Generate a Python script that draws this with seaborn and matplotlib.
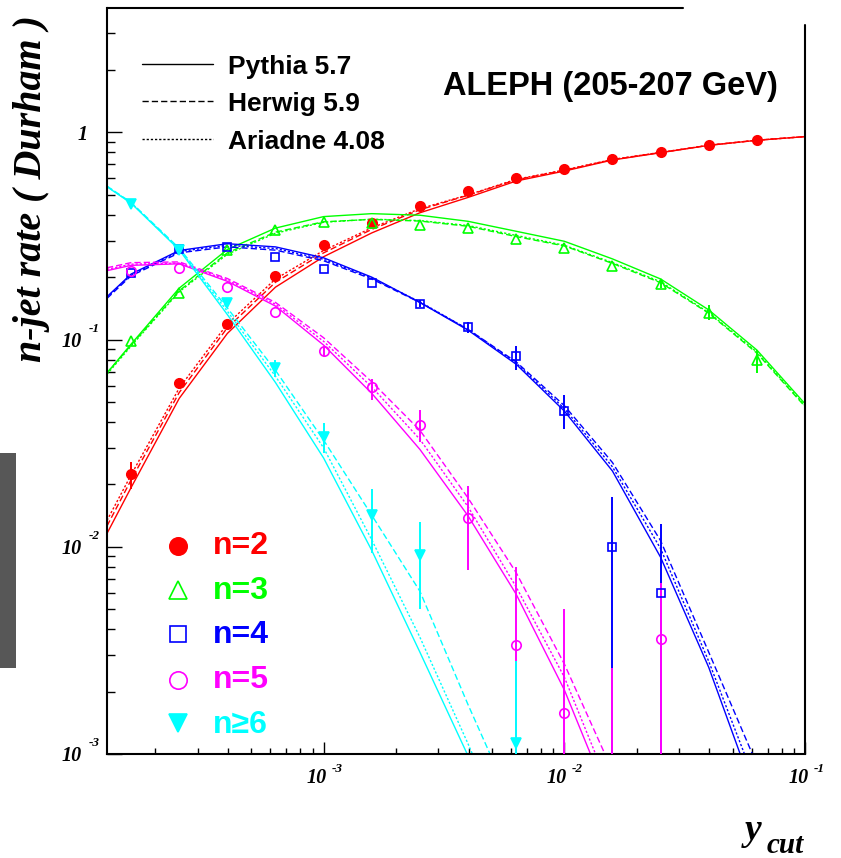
import numpy as np
import pandas as pd
import matplotlib
matplotlib.use("Agg")
import matplotlib.pyplot as plt
import seaborn as sns
from matplotlib.lines import Line2D
from matplotlib.patches import Rectangle
from matplotlib.ticker import LogLocator, NullFormatter, FixedLocator

nan = np.nan

# ---------------- data ----------------
# measured points (ycut values)
ycut_pts = [1.585e-4, 2.512e-4, 3.981e-4, 6.310e-4, 1.0e-3, 1.585e-3, 2.512e-3,
            3.981e-3, 6.310e-3, 1.0e-2, 1.585e-2, 2.512e-2, 3.981e-2, 6.310e-2]

n2_val = [0.0224, 0.0615, 0.119, 0.203, 0.287, 0.367, 0.443, 0.519, 0.599, 0.663, 0.747, 0.80, 0.868, 0.922]
n2_lo = [0.0191, 0.058] + [nan] * 12
n2_hi = [0.0257, 0.065] + [nan] * 12

n3_val = [0.0986, 0.168, 0.269, 0.339, 0.371, 0.367, 0.359, 0.347, 0.307, 0.278, 0.227, 0.186, 0.134, 0.080]
n3_lo = [nan] * 11 + [0.178, 0.124, 0.0688]
n3_hi = [nan] * 11 + [0.195, 0.147, 0.089]

n4_val = [0.210, 0.272, 0.280, 0.249, 0.220, 0.188, 0.149, 0.1146, 0.083, 0.0452, 0.010, 0.006]
n4_lo = [nan] * 6 + [0.143, 0.107, 0.0713, 0.037, 1e-4, 1e-4]
n4_hi = [nan] * 6 + [0.155, 0.122, 0.0935, 0.054, 0.0174, 0.0129]

n5_val = [0.215, 0.222, 0.180, 0.136, 0.088, 0.059, 0.0387, 0.0137, 0.00335, 0.00158, nan, 0.0036]
n5_lo = [nan] * 4 + [0.083, 0.051, 0.0321, 0.0077, 1e-4, 1e-4, 1e-4, 1e-4]
n5_hi = [nan] * 4 + [0.093, 0.0645, 0.0457, 0.0196, 0.008, 0.005, 0.0026, 0.0067]

n6_val = [0.452, 0.271, 0.150, 0.073, 0.034, 0.0142, 0.0091, nan, 0.00113]
n6_lo = [nan, nan, nan, 0.066, 0.0283, 0.0093, 0.005, nan, 1e-4]
n6_hi = [nan, nan, nan, 0.080, 0.0395, 0.0189, 0.0131, nan, 0.0028]

# Monte Carlo predictions
ycut_mc = [1.259e-4, 1.585e-4, 2.512e-4, 3.981e-4, 6.310e-4, 1.0e-3, 1.585e-3, 2.512e-3,
           3.981e-3, 6.310e-3, 1.0e-2, 1.585e-2, 2.512e-2, 3.981e-2, 6.310e-2, 1.0e-1]
ycut_mc6 = [1.259e-4, 1.585e-4, 2.512e-4, 3.981e-4, 6.310e-4, 1.0e-3, 1.585e-3, 2.512e-3,
            3.981e-3, 5.012e-3]

mc2_pythia = [0.0116, 0.0193, 0.052, 0.107, 0.179, 0.251, 0.327, 0.409, 0.485, 0.582, 0.65, 0.735, 0.797, 0.865, 0.915, 0.953]
mc2_herwig = [0.0126, 0.021, 0.0555, 0.114, 0.189, 0.262, 0.340, 0.423, 0.497, 0.590, 0.656, 0.738, 0.799, 0.866, 0.916, 0.954]
mc2_ariadne = [0.0134, 0.0222, 0.0583, 0.119, 0.196, 0.269, 0.346, 0.428, 0.499, 0.593, 0.658, 0.74, 0.80, 0.866, 0.916, 0.953]

mc3_pythia = [0.069, 0.095, 0.177, 0.272, 0.345, 0.392, 0.405, 0.398, 0.372, 0.333, 0.298, 0.245, 0.196, 0.139, 0.089, 0.049]
mc3_herwig = [0.069, 0.094, 0.172, 0.262, 0.330, 0.370, 0.380, 0.373, 0.352, 0.314, 0.283, 0.233, 0.188, 0.134, 0.086, 0.0475]
mc3_ariadne = [0.068, 0.093, 0.170, 0.258, 0.326, 0.368, 0.381, 0.375, 0.355, 0.318, 0.285, 0.235, 0.190, 0.135, 0.087, 0.048]

mc4_pythia = [0.161, 0.207, 0.269, 0.290, 0.280, 0.248, 0.200, 0.151, 0.111, 0.076, 0.0452, 0.0232, 0.0089, 0.00262, 0.0006]
mc4_herwig = [0.158, 0.203, 0.262, 0.280, 0.270, 0.240, 0.196, 0.151, 0.112, 0.078, 0.048, 0.0255, 0.0107, 0.0031, 0.00089]
mc4_ariadne = [0.160, 0.205, 0.266, 0.285, 0.275, 0.244, 0.198, 0.152, 0.112, 0.077, 0.0465, 0.0243, 0.0098, 0.0028, 0.0007]

mc5_pythia = [0.215, 0.228, 0.232, 0.191, 0.145, 0.094, 0.055, 0.0295, 0.0141, 0.0059, 0.00204, 0.00055]
mc5_herwig = [0.222, 0.235, 0.237, 0.197, 0.151, 0.102, 0.0625, 0.0365, 0.0172, 0.0075, 0.00272, 0.00083]
mc5_ariadne = [0.218, 0.231, 0.234, 0.194, 0.148, 0.098, 0.059, 0.0330, 0.0156, 0.0064, 0.00235, 0.00063]

mc6_pythia = [0.546, 0.455, 0.271, 0.132, 0.062, 0.0268, 0.0096, 0.0031, 0.00098, 0.00055]
mc6_herwig = [0.550, 0.459, 0.276, 0.142, 0.071, 0.0327, 0.0142, 0.0061, 0.00173, 0.00095]
mc6_ariadne = [0.548, 0.457, 0.273, 0.137, 0.0665, 0.030, 0.0108, 0.00366, 0.00112, 0.0006]

models = ["Pythia 5.7", "Herwig 5.9", "Ariadne 4.08"]
labels = ["n=2", "n=3", "n=4", "n=5", "n\u22656"]
colors = ["#ff0000", "#00ff00", "#0000ff", "#ff00ff", "#00ffff"]

# ---------------- build long-form table for seaborn ----------------
mc_sets = {
    "n=2": (ycut_mc, [mc2_pythia, mc2_herwig, mc2_ariadne]),
    "n=3": (ycut_mc, [mc3_pythia, mc3_herwig, mc3_ariadne]),
    "n=4": (ycut_mc[:15], [mc4_pythia, mc4_herwig, mc4_ariadne]),
    "n=5": (ycut_mc[:12], [mc5_pythia, mc5_herwig, mc5_ariadne]),
    "n\u22656": (ycut_mc6, [mc6_pythia, mc6_herwig, mc6_ariadne]),
}
rows = []
for lab, (xs, curves) in mc_sets.items():
    for model, ys in zip(models, curves):
        for x, y in zip(xs, ys):
            rows.append((lab, model, x, y))
df_mc = pd.DataFrame(rows, columns=["n", "model", "ycut", "rate"])

# ---------------- figure ----------------
sns.set_theme(style="white")
plt.rcParams["font.family"] = ["Liberation Sans", "DejaVu Sans"]

W, H = 841, 858
fig = plt.figure(figsize=(W / 100, H / 100), dpi=100)


def fx(px):
    return px / W


def fy(py):
    return 1 - py / H


ax = fig.add_axes([fx(107), fy(754), fx(805) - fx(107), fy(8) - fy(754)])
ax.set_xscale("log")
ax.set_yscale("log")
ax.set_xlim(10 ** -3.9, 0.1)
ax.set_ylim(1e-3, 3.98)

sns.lineplot(data=df_mc, x="ycut", y="rate", hue="n", style="model",
             hue_order=labels, style_order=models,
             palette=dict(zip(labels, colors)),
             dashes={"Pythia 5.7": "", "Herwig 5.9": (4.5, 2.2), "Ariadne 4.08": (1.6, 1.4)},
             estimator=None, sort=True, lw=1.0, legend=False, ax=ax, zorder=2)

series = [
    (ycut_pts, n2_val, n2_lo, n2_hi, "o", True),
    (ycut_pts, n3_val, n3_lo, n3_hi, "^", False),
    (ycut_pts[:12], n4_val, n4_lo, n4_hi, "s", False),
    (ycut_pts[:12], n5_val, n5_lo, n5_hi, "o", False),
    (ycut_pts[:9], n6_val, n6_lo, n6_hi, "v", True),
]
for (xs, v, lo, hi, mk, filled), c in zip(series, colors):
    xs = np.array(xs)
    lo = np.array(lo)
    hi = np.array(hi)
    ok = ~np.isnan(lo)
    ax.vlines(xs[ok], lo[ok], hi[ok], color=c, lw=1.4, zorder=3)
    ax.plot(xs, v, ls="none", marker=mk, ms=6.8 if mk != "s" else 6.3,
            mfc=c if filled else "none", mec=c, mew=1.2, zorder=4)

# ---------------- axes frame ----------------
for s in ["top", "right"]:
    ax.spines[s].set_visible(False)
for s in ["left", "bottom"]:
    ax.spines[s].set_color("black")
    ax.spines[s].set_linewidth(1.5)
ax.plot([0, (683 - 107) / 698], [1, 1], transform=ax.transAxes, color="black",
        lw=1.5, clip_on=False, zorder=5)
ax.plot([1, 1], [0, (754 - 25) / 746], transform=ax.transAxes, color="black",
        lw=1.5, clip_on=False, zorder=5)

ax.yaxis.set_major_locator(FixedLocator([1e-3, 1e-2, 1e-1, 1]))
ax.yaxis.set_minor_locator(LogLocator(base=10, subs=np.arange(2, 10), numticks=20))
ax.xaxis.set_major_locator(FixedLocator([1e-3, 1e-2, 1e-1]))
ax.xaxis.set_minor_locator(LogLocator(base=10, subs=np.arange(2, 10), numticks=20))
ax.xaxis.set_minor_formatter(NullFormatter())
ax.yaxis.set_minor_formatter(NullFormatter())
ax.tick_params(axis="both", which="both", direction="in", top=False, right=False,
               left=True, bottom=True, labelleft=False, labelbottom=False,
               color="black", width=1.0)
ax.tick_params(axis="y", which="major", length=10.8)
ax.tick_params(axis="y", which="minor", length=5.8)
ax.tick_params(axis="x", which="major", length=8.6)
ax.tick_params(axis="x", which="minor", length=4.5)
ax.set_xlabel("")
ax.set_ylabel("")
ax.grid(False)

serif = ["Liberation Serif", "DejaVu Serif"]
tick_kw = dict(family=serif, weight="bold", style="italic", color="black")

# y tick labels
fig.text(fx(88), fy(140), "1", ha="right", va="baseline", fontsize=14.5, **tick_kw)
for py, ex in [(340, "-1"), (547, "-2"), (754, "-3")]:
    fig.text(fx(82), fy(py + 7), "10", ha="right", va="baseline", fontsize=14.5, **tick_kw)
    fig.text(fx(89), fy(py - 8), ex, ha="left", va="baseline", fontsize=9.5, **tick_kw)
# x tick labels
for px, ex in [(323, "-3"), (563, "-2"), (805, "-1")]:
    fig.text(fx(px + 4), fy(783), "10", ha="right", va="baseline", fontsize=14.5, **tick_kw)
    fig.text(fx(px + 9), fy(772), ex, ha="left", va="baseline", fontsize=9.5, **tick_kw)

# axis titles
fig.text(fx(32), fy(188), "n-jet rate ( Durham )", rotation=90, ha="center", va="center",
         fontsize=28.8, **tick_kw)
fig.text(fx(745), fy(840), "y", ha="left", va="baseline", fontsize=27, **tick_kw)
fig.text(fx(767), fy(853), "cut", ha="left", va="baseline", fontsize=21, **tick_kw)

# model legend
sans_bold = dict(family=["Liberation Sans", "DejaVu Sans"], weight="bold", color="black")
for py_line, py_base, name, ls in [(64, 74, models[0], "-"), (101, 111.5, models[1], (0, (4.5, 2.2))),
                                   (139, 149, models[2], (0, (1.6, 1.4)))]:
    fig.add_artist(Line2D([fx(142), fx(213)], [fy(py_line), fy(py_line)], color="black",
                          lw=1.0, ls=ls, transform=fig.transFigure))
    fig.text(fx(228), fy(py_base), name, ha="left", va="baseline", fontsize=19, **sans_bold)

fig.text(fx(443), fy(95), "ALEPH (205-207 GeV)", ha="left", va="baseline", fontsize=23.5,
         **sans_bold)

# multiplicity legend
leg_markers = ["o", "^", "s", "o", "v"]
leg_filled = [True, False, False, False, True]
leg_my = [546, 590, 634, 680, 723]
leg_base = [554, 599, 643, 688, 733]
for lab, c, mk, fl, my, yb in zip(labels, colors, leg_markers, leg_filled, leg_my, leg_base):
    fig.add_artist(Line2D([fx(178)], [fy(my)], ls="none", marker=mk, ms=12.5 if mk != "s" else 12,
                          mfc=c if fl else "none", mec=c, mew=1.2, transform=fig.transFigure))
    fig.text(fx(213), fy(yb), lab, ha="left", va="baseline", fontsize=23,
             family=["Liberation Sans", "DejaVu Sans"], weight="bold", color=c)

# grey side bar
fig.add_artist(Rectangle((0, fy(668)), fx(16), fy(453) - fy(668), transform=fig.transFigure,
                         facecolor="#575757", edgecolor="none"))

fig.savefig("out.png", dpi=100)
